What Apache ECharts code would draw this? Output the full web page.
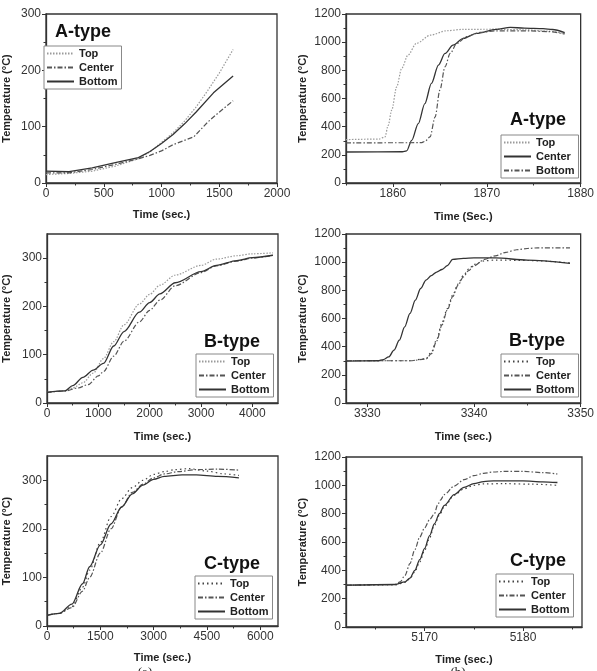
<!DOCTYPE html>
<html>
<head>
<meta charset="utf-8">
<title>Temperature curves</title>
<script src="https://cdn.jsdelivr.net/npm/echarts@6/dist/echarts.min.js"></script>
<style>
  html, body { margin: 0; padding: 0; background: #fff; }
  #main { width: 597px; height: 671px; }
</style>
</head>
<body>
<div id="main"></div>
<script>
// ---- data: [time, temperature] ----
const A1_TOP = [[0,15],[200,17],[400,21],[600,30],[800,43],[900,55],[1000,72],[1100,89],[1200,110],[1300,135],[1400,164],[1500,195],[1620,237]];
const A1_CENTER = [[0,18],[200,18],[400,24],[600,33],[800,43],[900,49],[1000,57],[1100,68],[1280,82],[1400,108],[1460,119],[1620,146]];
const A1_BOTTOM = [[0,21],[200,20],[400,27],[600,36],[800,45],[900,56],[1000,70],[1100,86],[1200,105],[1300,126],[1450,160],[1620,190]];

const A2_TOP = [[1855,308],[1858.5,312],[1859.15,327],[1859.5,410],[1859.87,517],[1860.4,683],[1860.93,813],[1861.6,908],[1862.5,991],[1864,1050],[1865.7,1081],[1867.5,1091],[1871,1092],[1874,1088],[1876.5,1078],[1878.3,1062]];
const A2_CENTER = [[1855,220],[1861,222],[1861.46,228],[1862,303],[1862.7,422],[1863.4,564],[1864.1,707],[1864.85,837],[1865.55,920],[1866.4,979],[1867.5,1027],[1868.9,1062],[1871,1091],[1872.5,1105],[1874,1100],[1876,1096],[1877,1090],[1878.3,1068]];
const A2_BOTTOM = [[1855,285],[1863,286],[1863.4,295],[1863.95,327],[1864.5,470],[1865,659],[1865.55,825],[1866.1,920],[1866.8,991],[1867.85,1039],[1869.3,1069],[1871,1080],[1874.5,1080],[1876.5,1075],[1878.3,1058]];

const B1_TOP = [[0,22],[350,25],[500,31],[700,42],[900,62],[1100,92],[1300,127],[1500,162],[1800,205],[2000,225],[2200,244],[2500,265],[3000,285],[3300,298],[3700,305],[4000,309],[4400,311]];
const B1_CENTER = [[0,22],[350,25],[600,31],[800,38],[1000,56],[1100,65],[1300,97],[1500,128],[1800,168],[2000,192],[2200,213],[2500,243],[3000,270],[3300,284],[3700,294],[4000,300],[4400,306]];
const B1_BOTTOM = [[0,22],[350,25],[500,36],[700,53],[900,68],[1100,82],[1300,118],[1500,148],[1800,188],[2000,208],[2200,226],[2500,249],[3000,272],[3300,285],[3700,295],[4000,301],[4400,306]];

const B2_TOP = [[3328,300],[3334,300],[3335.5,315],[3336,360],[3336.5,450],[3337,570],[3337.5,670],[3338,765],[3338.5,845],[3339,905],[3339.5,950],[3340,985],[3341,1010],[3342,1015],[3345,1012],[3349,995]];
const B2_CENTER = [[3328,300],[3334,300],[3335.5,312],[3336,350],[3336.5,440],[3337,555],[3337.5,660],[3338,755],[3338.5,835],[3339,895],[3339.5,940],[3340,975],[3341,1020],[3342,1045],[3343,1070],[3344,1088],[3345,1097],[3346,1102],[3349,1102]];
const B2_BOTTOM = [[3328,298],[3331,300],[3331.5,308],[3332,327],[3332.5,375],[3333,446],[3333.5,540],[3334,636],[3334.5,730],[3335,813],[3335.5,873],[3336,905],[3336.5,930],[3337,948],[3337.5,975],[3338,1020],[3339,1027],[3340,1030],[3342,1030],[3345,1015],[3349,992]];

const C1_TOP = [[0,22],[350,26],[700,40],[1000,80],[1200,115],[1500,172],[1800,225],[2100,262],[2400,285],[2700,300],[3000,312],[3300,318],[3600,322],[4000,324],[4500,319],[5000,313],[5400,310]];
const C1_CENTER = [[0,22],[350,26],[700,38],[1000,72],[1200,100],[1500,150],[1800,200],[2100,245],[2400,275],[2700,292],[3000,305],[3300,313],[3700,318],[4200,322],[4800,323],[5400,321]];
const C1_BOTTOM = [[0,22],[350,26],[700,45],[1000,87],[1200,122],[1500,167],[1800,210],[2100,245],[2400,272],[2700,290],[3000,302],[3300,308],[3800,311],[4200,311],[4800,308],[5400,305]];

const C2_TOP = [[5162,295],[5167,298],[5168,315],[5168.5,340],[5169,390],[5169.5,460],[5170,540],[5170.5,630],[5171,720],[5171.5,790],[5172,850],[5173,930],[5174,975],[5175,1000],[5176,1010],[5178,1012],[5181,1008],[5183.5,1000]];
const C2_CENTER = [[5162,295],[5167,300],[5167.5,318],[5168,365],[5168.5,447],[5169,546],[5169.5,635],[5170,700],[5170.5,758],[5171,800],[5171.3,860],[5171.6,895],[5172,935],[5173,995],[5174,1040],[5175,1068],[5176,1085],[5177,1094],[5178,1098],[5180,1098],[5182,1090],[5183.5,1080]];
const C2_BOTTOM = [[5162,295],[5167,300],[5168,318],[5168.5,345],[5169,400],[5169.5,475],[5170,555],[5170.5,645],[5171,730],[5171.5,800],[5172,858],[5173,935],[5174,985],[5175,1012],[5176,1026],[5177,1032],[5180,1032],[5182,1025],[5183.5,1020]];

// ---- tick values ----
const A1_XTICKS = [0, 500, 1000, 1500, 2000], A1_XMINOR = [250, 750, 1250, 1750];
const LOW_YTICKS = [0, 100, 200, 300], LOW_YMINOR = [50, 150, 250];
const HIGH_YTICKS = [0, 200, 400, 600, 800, 1000, 1200], HIGH_YMINOR = [100, 300, 500, 700, 900, 1100];
const A2_XTICKS = [1860, 1870, 1880], A2_XMINOR = [1855, 1865, 1875];
const B1_XTICKS = [0, 1000, 2000, 3000, 4000], B1_XMINOR = [500, 1500, 2500, 3500];
const B2_XTICKS = [3330, 3340, 3350], B2_XMINOR = [3335, 3345];
const C1_XTICKS = [0, 1500, 3000, 4500, 6000], C1_XMINOR = [750, 2250, 3750, 5250];
const C2_XTICKS = [5170, 5180], C2_XMINOR = [5165, 5175, 5185];

const NAMES = ['Top', 'Center', 'Bottom'];

// line looks
const dotLight = { color: '#9a9a9a', width: 1.2, type: [1.5, 1.5] };
const dotDark = { color: '#444', width: 1.2, type: [1.5, 3] };
const dashDot = { color: '#555', width: 1.2, type: [5, 2, 1.5, 2] };
const solid = { color: '#333', width: 1.3, type: 'solid' };

const panels = [
  { id: 'a1', grid: [42, 14, 235, 169], x: [0, 2000], xt: A1_XTICKS, xm: A1_XMINOR, y: [0, 300], yt: LOW_YTICKS, ym: LOW_YMINOR,
    xName: 'Time (sec.)', xGap: 26, yGap: 34, smooth: false,
    title: ['A-type', 55, 32], legend: [44, 46],
    lines: [[A1_TOP, dotLight], [A1_CENTER, dashDot], [A1_BOTTOM, solid]] },
  { id: 'a2', grid: [346, 14, 235, 169], x: [1855, 1880], xt: A2_XTICKS, xm: A2_XMINOR, y: [0, 1200], yt: HIGH_YTICKS, ym: HIGH_YMINOR,
    xName: 'Time (Sec.)', xGap: 28, yGap: 38, smooth: 0.3,
    title: ['A-type', 510, 120], legend: [501, 135],
    lines: [[A2_TOP, dotLight], [A2_CENTER, solid], [A2_BOTTOM, dashDot]] },
  { id: 'b1', grid: [43, 234, 235, 169], x: [0, 4500], xt: B1_XTICKS, xm: B1_XMINOR, y: [0, 350], yt: LOW_YTICKS, ym: LOW_YMINOR,
    xName: 'Time (sec.)', xGap: 28, yGap: 35, smooth: 0.3,
    title: ['B-type', 204, 342], legend: [196, 354],
    lines: [[B1_TOP, dotLight], [B1_CENTER, dashDot], [B1_BOTTOM, solid]] },
  { id: 'b2', grid: [346, 234, 235, 169], x: [3328, 3350], xt: B2_XTICKS, xm: B2_XMINOR, y: [0, 1200], yt: HIGH_YTICKS, ym: HIGH_YMINOR,
    xName: 'Time (sec.)', xGap: 28, yGap: 38, smooth: 0.3,
    title: ['B-type', 509, 341], legend: [501, 354],
    lines: [[B2_TOP, dotDark], [B2_CENTER, dashDot], [B2_BOTTOM, solid]] },
  { id: 'c1', grid: [43, 456, 235, 170], x: [0, 6500], xt: C1_XTICKS, xm: C1_XMINOR, y: [0, 350], yt: LOW_YTICKS, ym: LOW_YMINOR,
    xName: 'Time (sec.)', xGap: 26, yGap: 35, smooth: 0.3,
    title: ['C-type', 204, 564], legend: [195, 576],
    lines: [[C1_TOP, dotDark], [C1_CENTER, dashDot], [C1_BOTTOM, solid]] },
  { id: 'c2', grid: [346, 457, 236, 170], x: [5162, 5186], xt: C2_XTICKS, xm: C2_XMINOR, y: [0, 1200], yt: HIGH_YTICKS, ym: HIGH_YMINOR,
    xName: 'Time (sec.)', xGap: 27, yGap: 38, smooth: 0.3,
    title: ['C-type', 510, 561], legend: [496, 574],
    lines: [[C2_TOP, dotDark], [C2_CENTER, dashDot], [C2_BOTTOM, solid]] }
];

const axisColor = '#333';
const nameStyle = { fontSize: 11, fontWeight: 'bold', color: '#222' };

function mainAxis(i, range, ticks, name, gap) {
  return {
    gridIndex: i, type: 'value', min: range[0], max: range[1],
    name: name, nameLocation: 'middle', nameGap: gap, nameTextStyle: nameStyle,
    axisLine: { show: true, lineStyle: { color: axisColor, width: 1.3 } },
    axisTick: { show: true, length: 4, customValues: ticks, lineStyle: { color: axisColor } },
    axisLabel: { customValues: ticks, fontSize: 12, color: '#333', margin: 5, formatter: (v) => String(v) },
    splitLine: { show: false }
  };
}
function minorAxis(i, range, ticks, pos) {
  return {
    gridIndex: i, type: 'value', min: range[0], max: range[1], position: pos,
    axisLine: { show: false },
    axisTick: { show: true, length: 2.5, customValues: ticks, lineStyle: { color: axisColor } },
    axisLabel: { show: false },
    splitLine: { show: false }
  };
}

const option = {
  animation: false,
  textStyle: { fontFamily: '"Liberation Sans", Arial, sans-serif' },
  grid: [], xAxis: [], yAxis: [], legend: [], series: []
};

panels.forEach((p, i) => {
  option.grid.push({
    left: p.grid[0], top: p.grid[1], width: p.grid[2], height: p.grid[3],
    show: true, borderColor: axisColor, borderWidth: 1.3
  });
  option.xAxis.push(mainAxis(i, p.x, p.xt, p.xName, p.xGap));
  option.xAxis.push(minorAxis(i, p.x, p.xm, 'bottom'));
  option.yAxis.push(mainAxis(i, p.y, p.yt, 'Temperature (°C)', p.yGap));
  option.yAxis.push(minorAxis(i, p.y, p.ym, 'left'));

  const ids = [];
  p.lines.forEach((ln, k) => {
    const sid = p.id + '|' + NAMES[k];
    ids.push(sid);
    option.series.push({
      name: sid, type: 'line', xAxisIndex: 2 * i, yAxisIndex: 2 * i,
      data: ln[0], showSymbol: false, symbol: 'none',
      smooth: p.smooth, smoothMonotone: 'x',
      lineStyle: ln[1], itemStyle: { color: ln[1].color }
    });
  });

  option.legend.push({
    orient: 'vertical', left: p.legend[0], top: p.legend[1],
    data: ids, formatter: (n) => n.split('|')[1],
    selectedMode: false, itemWidth: 27, itemHeight: 10, itemGap: 3,
    itemStyle: { opacity: 0 },
    padding: [2, 4, 2, 2], borderColor: '#888', borderWidth: 1, backgroundColor: '#fff',
    textStyle: { fontSize: 11, fontWeight: 'bold', color: '#222' }
  });
});

// panel titles and sub-figure labels
option.graphic = panels.map((p) => ({
  type: 'text', x: p.title[1], y: p.title[2], z: 10,
  style: { text: p.title[0], font: 'bold 18px "Liberation Sans", Arial, sans-serif', fill: '#111', verticalAlign: 'middle' }
})).concat([
  { type: 'text', x: 145, y: 673, style: { text: '(a)', font: '13px "Liberation Serif", serif', fill: '#222', align: 'center', verticalAlign: 'middle' } },
  { type: 'text', x: 458, y: 673, style: { text: '(b)', font: '13px "Liberation Serif", serif', fill: '#222', align: 'center', verticalAlign: 'middle' } }
]);

const chart = echarts.init(document.getElementById('main'), null, { renderer: 'canvas' });
chart.setOption(option);
</script>
</body>
</html>
